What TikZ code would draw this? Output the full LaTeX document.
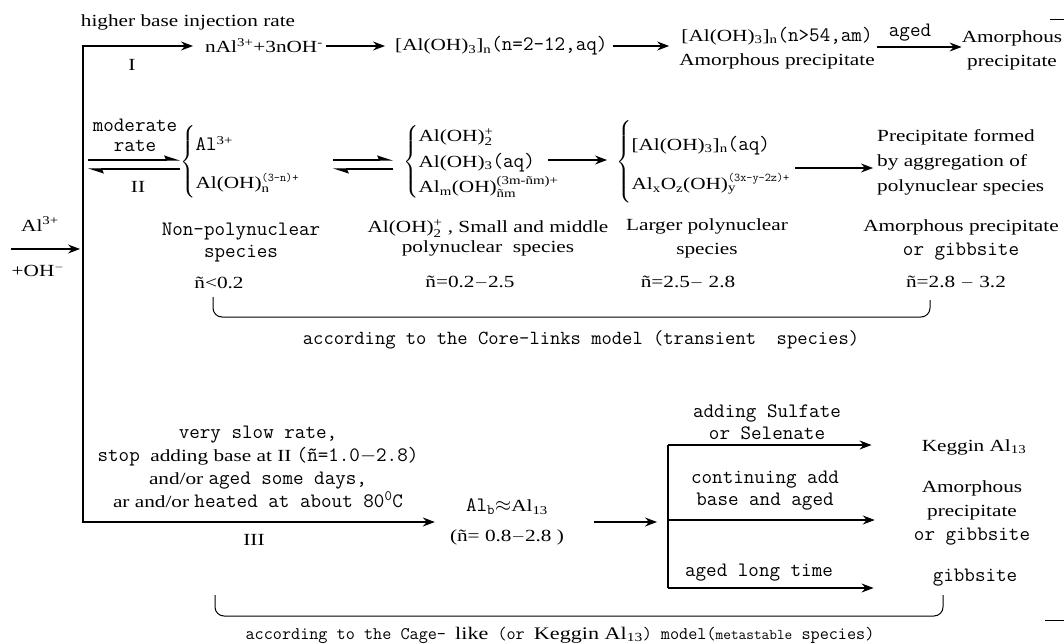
\documentclass[tikz,border=0pt]{standalone}
\usepackage{fontspec}
\usepackage{amsmath}
\setmainfont{Liberation Serif}
\newfontfamily\SerW{Liberation Serif}[FakeStretch=1.25]
\newcommand\MonO{\ttfamily}
\usetikzlibrary{arrows.meta}
\newcommand\FS{\fontsize{17}{24}\selectfont\SerW}
\newcommand\FM{\fontsize{20.5}{22}\selectfont\MonO}
\newcommand\tM[1]{{\fontsize{20.5}{22}\selectfont\MonO #1}}
\newcommand\tS[1]{{\fontsize{17}{22}\selectfont\SerW #1}}
\newcommand\sps[1]{$^{\text{#1}}$}
\newcommand\sbs[1]{$_{\text{#1}}$}
\newcommand\spsb[2]{$^{\text{#1}}_{\text{#2}}$}
\begin{document}
\begin{tikzpicture}[x=1pt,y=-1pt,
  S/.style={font=\FS, inner sep=0pt},
  M/.style={font=\FM, inner sep=0pt},
  arr/.style={line width=1.2pt,-{Stealth[length=12pt,width=9pt,inset=4pt]}},
  harp/.style={line width=1.2pt,-{Stealth[left,length=14pt,width=9pt,inset=2pt]}},
  ln/.style={line width=1.2pt},
  brk/.style={line width=1pt, rounded corners=9pt}]
\useasboundingbox (0,0) rectangle (1064,644);

% ---------- Row I ----------
\node[S] (hb) at (188,22) {higher base injection rate};
\node[S,anchor=west] (n1) at (205,46) {nAl\sps{3+}+3nOH\sps{-}};
\node[S,anchor=west] (n2) at (395,46) {[Al(OH)\sbs{3}]\sbs{n}\tM{(n=2-12,aq)}};
\node[S,align=center] (n3) at (777,48) {[Al(OH)\sbs{3}]\sbs{n}\tM{(n>54,am)}\\Amorphous precipitate};
\node[S,align=center] (n4) at (1012,50) {Amorphous\\precipitate};
\node[M] (aged) at (910,33) {aged};
\node[S] (I) at (132,65) {I};

\coordinate (v) at (83,249);
\coordinate (in) at (11,249);
\draw[arr,shorten >=12pt] (v) |- (n1.west);
\draw[arr,shorten <=3pt,shorten >=10pt] (n1.east) -- (n2.west);
\draw[arr,shorten <=5pt,shorten >=10pt] (n2.east) -- (n2.east -| n3.west);
\coordinate (a34) at (877,47);
\draw[arr] (a34) -- (a34 -| n4.west);

% ---------- Left input ----------
\node[S] (alin) at (40,224) {Al\sps{3+}};
\node[S] (ohin) at (38,270) {+OH\sps{$-$}};
\draw[arr,shorten >=3pt] (in) -- (v);

% ---------- Row II ----------
\node[M,align=center,font=\fontsize{20.5}{20}\selectfont\MonO] (mr) at (135,135) {moderate\\rate};
\node[S] (II) at (138,187) {II};
\node[S,anchor=west] (g1) at (180,162) {\def\arraystretch{1.55}$\left\{\begin{tabular}{@{}l@{}}\tM{Al}\sps{3+}\\Al(OH)\spsb{\MonO(3-n)+}{n}\end{tabular}\right.$};
\node[S,anchor=west] (g2) at (403,162) {\def\arraystretch{1.07}$\left\{\begin{tabular}{@{}l@{}}Al(OH)\spsb{+}{2}\\Al(OH)\sbs{3}\tM{(aq)}\\Al\sbs{m}(OH)\spsb{(3m-ñm)+}{ñm}\end{tabular}\right.$};
\node[S,anchor=west] (g3) at (616,162) {\def\arraystretch{1.65}$\left\{\begin{tabular}{@{}l@{}}[Al(OH)\sbs{3}]\sbs{n}\tM{(aq)}\\Al\sbs{x}O\sbs{z}(OH)\spsb{\MonO(3x-y-2z)+}{y}\end{tabular}\right.$};
\node[S,align=left,anchor=west,font=\fontsize{17}{25}\selectfont\SerW] (p1) at (877,162) {Precipitate formed\\by aggregation of\\polynuclear species};

\coordinate (e1t) at (88,160);
\coordinate (e1b) at (88,169);
\draw[harp] (e1t) -- (e1t -| g1.west);
\draw[harp] (e1b -| g1.west) -- (e1b);
\coordinate (e2t) at (333,160);
\coordinate (e2b) at (333,169);
\draw[harp,shorten >=10pt] (e2t) -- (e2t -| g2.west);
\draw[harp,shorten <=10pt] (e2b -| g2.west) -- (e2b);
\coordinate (a23) at (548,160);
\draw[arr,shorten >=9pt] (a23) -- (a23 -| g3.west);
\draw[arr,shorten <=4pt,shorten >=4pt] ([yshift=-6pt]g3.east) -- ([yshift=-6pt]g3.east -| p1.west);

\node[M,align=center] (L1) at (241,243) {Non-polynuclear\\species};
\node[S] (L1n) at (219,283) {ñ<0.2};
\node[S,align=center,font=\fontsize{17}{20}\selectfont\SerW] (L2) at (488,238) {Al(OH)\spsb{+}{2} , Small and middle\\polynuclear~~species};
\node[S] (L2n) at (470,282) {ñ=0.2$-$2.5};
\node[S,align=center] (L3) at (707,238) {Larger polynuclear\\species};
\node[S] (L3n) at (688,282) {ñ=2.5$-$ 2.8};
\node[S,align=center] (L4) at (961,240) {Amorphous precipitate\\\tM{or gibbsite}};
\node[S] (L4n) at (956,282) {ñ=2.8 $-$ 3.2};

\draw[brk] (213,297) -- (213,317) -- (930,317) -- (930,300);
\node[M,font=\fontsize{20}{20}\selectfont\MonO] (core) at (581,340) {according to the Core-links model (transient~~species)};

% ---------- Row III ----------
\node[M,align=center,font=\fontsize{20.5}{23}\selectfont\MonO] (t3) at (258,467) {very slow rate,\\stop \tS{adding base at II }(ñ=1.0$-$2.8)\\\tS{and/or }aged some days,\\\tS{ar and/or }heated at about 80\sps{0}C};
\node[S,align=center,font=\fontsize{17}{30}\selectfont\SerW] (al) at (507,522) {\tM{Al\sbs{b}$\approx$}Al\sbs{13}\\(ñ= 0.8$-$2.8 )};
\node[S] (III) at (254,540) {III};
\draw[arr,shorten >=15pt] (v) |- (al.west);

\coordinate (j) at (668,520);
\coordinate (jt) at (668,445);
\coordinate (jb) at (668,588);
\draw[arr,shorten <=30pt,shorten >=11pt] (al.east) -- (al.east -| j);
\draw[ln] (jt) -- (jb);

\node[S] (k1) at (974,447) {Keggin Al\sbs{13}};
\node[S,align=center] (k2) at (972,513) {Amorphous\\precipitate\\\tM{or gibbsite}};
\node[M] (k3) at (975,578) {gibbsite};
\draw[arr,shorten >=50pt] (jt) -- (jt -| k1.west);
\draw[arr,shorten >=39pt] (j) -- (j -| k2.west);
\draw[arr,shorten >=59pt] (jb) -- (jb -| k3.west);

\node[M,align=center] (bl1) at (767,422) {adding Sulfate\\or Selenate};
\node[M,align=center] (bl2) at (765,491) {continuing add\\base and aged};
\node[M] (bl3) at (759,573) {aged long time};

\draw[brk] (215,595) -- (215,616) -- (943,616) -- (943,595);
\node[M,font=\fontsize{17.7}{18}\selectfont\MonO] (cage) at (560,635) {according to the Cage- {\SerW like} (or {\SerW Keggin Al\sbs{13}}) model({\fontsize{14.9}{15}\selectfont metastable} species)};

% edge marks
\draw[line width=1pt] (1050,20) -- (1064,20);
\draw[line width=1pt] (1045,620) -- (1064,620);
\end{tikzpicture}
\end{document}
